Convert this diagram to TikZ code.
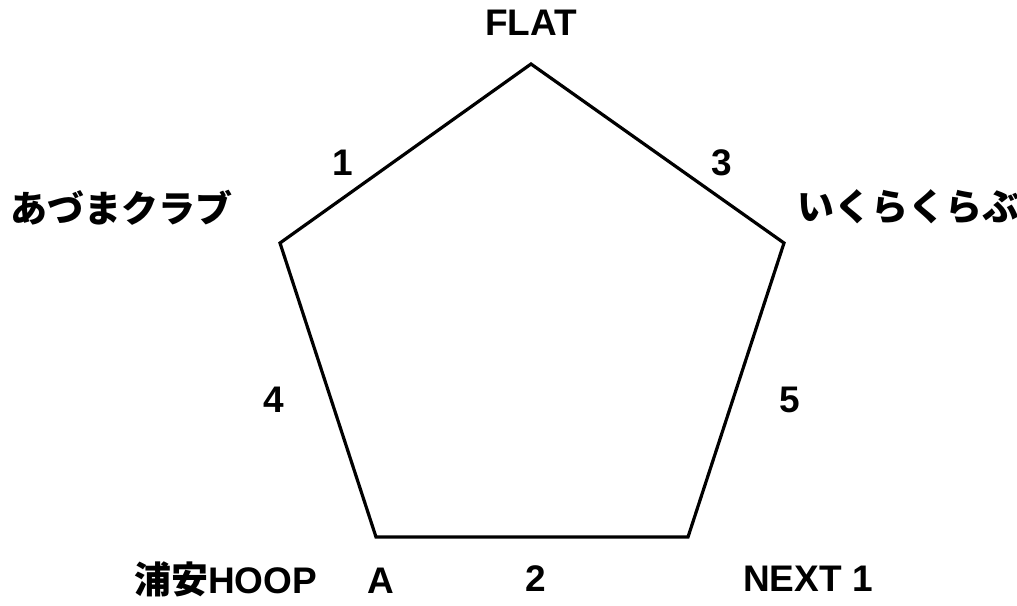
\documentclass[tikz,border=0pt]{standalone}
\usepackage{fontspec}
\setmainfont{Liberation Sans}
\newfontfamily\cjk{Noto Sans CJK JP}
\begin{document}
\begin{tikzpicture}[x=1pt,y=-1pt,
  lbl/.style={font=\fontsize{37}{40}\selectfont\bfseries, inner sep=0pt, anchor=center},
  jlbl/.style={font=\fontsize{37}{40}\selectfont\cjk\bfseries, inner sep=0pt, anchor=center},
  edge/.style={line width=3.2pt, line join=miter}]
\useasboundingbox (0,0) rectangle (1017,605);
\coordinate (T) at (531,64);
\coordinate (L) at (280,243);
\coordinate (R) at (784,243);
\coordinate (BL) at (376,537);
\coordinate (BR) at (688,537);
\draw[edge] (T) -- (R) -- (BR) -- (BL) -- (L) -- cycle;
\node[lbl] (flat) at (531,23) {FLAT};
\node[jlbl] (azuma) at (121,208) {あづまクラブ};
\node[jlbl] (ikura) at (908,207) {いくらくらぶ};
\node[lbl] (n1) at (343,163) {1};
\node[lbl] (n3) at (722,163) {3};
\node[lbl] (n4) at (274,400) {4};
\node[lbl] (n5) at (790,400) {5};
\node[lbl] (n2) at (536,579) {2};
\node[lbl] (next) at (808,579) {NEXT 1};
\node[lbl, anchor=west] (urayasu) at (134,579) {{\cjk\bfseries 浦安}HOOP\hspace{50pt}A};
\end{tikzpicture}
\end{document}
